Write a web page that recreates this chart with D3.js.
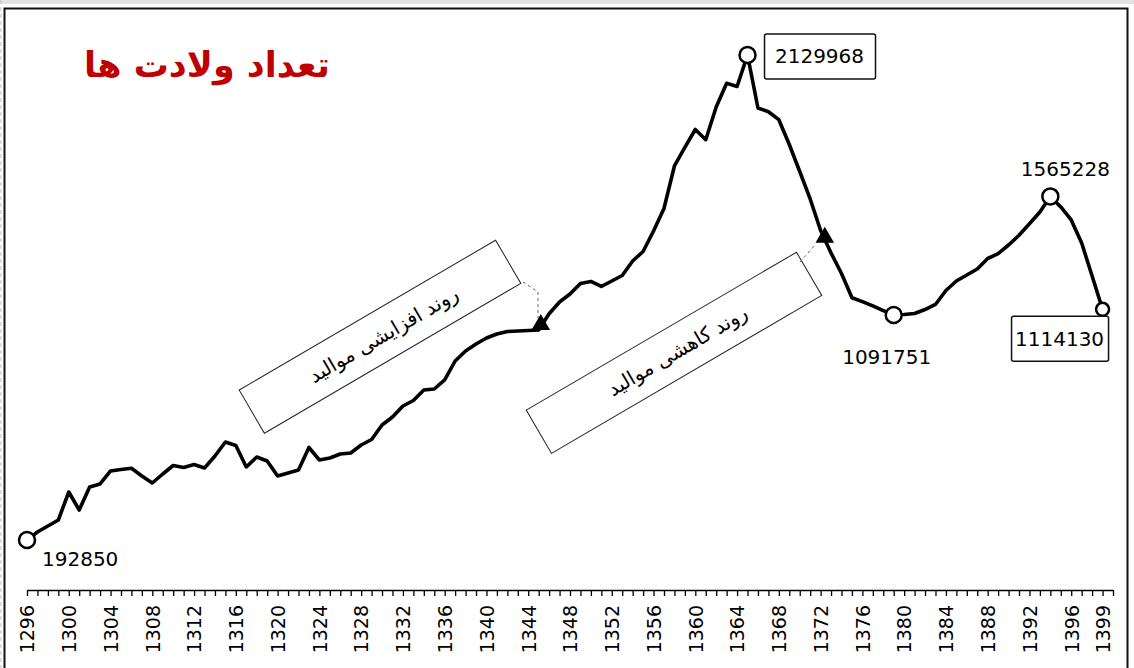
<html>
<head>
    <meta charset="utf-8">
    <title>تعداد ولادت ها</title>
    <style>
        body { margin: 0; background: #fff; }
        svg { display: block; }
    </style>
</head>
<body>
    <div id="grafico"></div>
    <script src="https://d3js.org/d3.v7.min.js"></script>
    <script>
        // Dados: ولادت ها در هر سال
        const years = [
            1296, 1297, 1298, 1299, 1300, 1301, 1302, 1303, 1304, 1305,
            1306, 1307, 1308, 1309, 1310, 1311, 1312, 1313, 1314, 1315,
            1316, 1317, 1318, 1319, 1320, 1321, 1322, 1323, 1324, 1325,
            1326, 1327, 1328, 1329, 1330, 1331, 1332, 1333, 1334, 1335,
            1336, 1337, 1338, 1339, 1340, 1341, 1342, 1343, 1344, 1345,
            1346, 1347, 1348, 1349, 1350, 1351, 1352, 1353, 1354, 1355,
            1356, 1357, 1358, 1359, 1360, 1361, 1362, 1363, 1364, 1365,
            1366, 1367, 1368, 1369, 1370, 1371, 1372, 1373, 1374, 1375,
            1376, 1377, 1378, 1379, 1380, 1381, 1382, 1383, 1384, 1385,
            1386, 1387, 1388, 1389, 1390, 1391, 1392, 1393, 1394, 1395,
            1396, 1397, 1398, 1399
        ];
        const births = [
            192850, 224900, 248800, 272800, 384600, 312700, 404600, 416600, 468500, 474500,
            479300, 448500, 420600, 456500, 490500, 482500, 494500, 480500, 528400, 584300,
            570300, 484500, 524400, 508400, 448500, 460500, 472500, 562400, 512400, 520400,
            536400, 540400, 572300, 594300, 652200, 684200, 728100, 750100, 792000, 796000,
            832000, 907800, 947800, 975700, 999700, 1015700, 1025700, 1027700, 1029700, 1031700,
            1096300, 1143500, 1175400, 1217400, 1225400, 1205400, 1227400, 1249300, 1307200, 1345200,
            1427100, 1516900, 1686700, 1760600, 1832400, 1791700, 1922300, 2017000, 2004200, 2129968,
            1918300, 1903500, 1871600, 1772500, 1664700, 1554900, 1429100, 1339200, 1257300, 1160300,
            1145100, 1128300, 1109100, 1091751, 1093600, 1097600, 1113500, 1133500, 1189400, 1227400,
            1251300, 1275300, 1317200, 1336800, 1371100, 1409900, 1456200, 1503000, 1565228, 1522900,
            1471000, 1379100, 1247300, 1114130
        ];
        const tickLabels = [1296, 1300, 1304, 1308, 1312, 1316, 1320, 1324, 1328, 1332, 1336, 1340,
            1344, 1348, 1352, 1356, 1360, 1364, 1368, 1372, 1376, 1380, 1384, 1388, 1392, 1396, 1399];
        const highlightYears = [1296, 1365, 1379, 1394, 1399];
        const trendYears = [1345.2, 1372.4];
        const trendLabels = ["روند افزایشی موالید", "روند کاهشی موالید"];
        const title = "تعداد ولادت ها";

        const data = years.map((yr, i) => ({ year: yr, value: births[i] }));
        const valueOf = yr => births[years.indexOf(yr)];
        // valor entre dois anos (para os triângulos)
        const valueAt = t => {
            const i = Math.floor(t) - years[0];
            return d3.interpolateNumber(births[i], births[i + 1])(t - Math.floor(t));
        };

        const W = 1134, H = 668;
        const svg = d3.select("#grafico").append("svg")
            .attr("width", W)
            .attr("height", H);

        // moldura
        svg.append("rect").attr("x", 0).attr("y", 0).attr("width", W).attr("height", 4).attr("fill", "#e2e2e2");
        svg.append("line").attr("x1", 1).attr("x2", 1).attr("y1", 0).attr("y2", H)
            .attr("stroke", "#bbb").attr("stroke-dasharray", "4,3");
        svg.append("rect")
            .attr("x", 4.5).attr("y", 8.5).attr("width", 1123).attr("height", 700)
            .attr("fill", "none").attr("stroke", "#111").attr("stroke-width", 2);

        // escalas
        const x = d3.scaleLinear().domain([1296, 1400]).range([27, 1113]);
        const y = d3.scaleLinear().domain([0, 2129968]).range([588.3, 55]);

        // eixo X: um tick por ano
        const axisY = 590;
        svg.append("g")
            .attr("transform", `translate(0,${axisY})`)
            .call(d3.axisBottom(x).tickValues(years.concat([1400])).tickSize(6).tickSizeOuter(0).tickFormat(""))
            .call(g => g.select(".domain").attr("stroke-width", 1.6))
            .call(g => g.selectAll(".tick line").attr("stroke-width", 1.3));

        svg.append("g")
            .attr("transform", `translate(0,${axisY})`)
            .call(d3.axisBottom(x).tickValues(tickLabels).tickSize(0).tickFormat(d => d))
            .call(g => g.select(".domain").remove())
            .selectAll("text")
            .attr("transform", "rotate(-90)")
            .attr("x", -15)
            .attr("y", 0)
            .attr("dy", "0.36em")
            .style("text-anchor", "end")
            .style("font-family", "'DejaVu Sans', sans-serif")
            .style("font-size", "19px")
            .style("fill", "#000");

        // linha
        const line = d3.line()
            .x(d => x(d.year))
            .y(d => y(d.value));

        svg.append("path")
            .datum(data)
            .attr("d", line)
            .attr("fill", "none")
            .attr("stroke", "#000")
            .attr("stroke-width", 3.6)
            .attr("stroke-linejoin", "round")
            .attr("stroke-linecap", "round");

        // caixas inclinadas com texto
        const boxes = [
            { cx: 380, cy: 336.7, w: 297, h: 50 },
            { cx: 674, cy: 352.8, w: 313, h: 50 }
        ];
        boxes.forEach((b, i) => {
            const g = svg.append("g").attr("transform", `translate(${b.cx},${b.cy}) rotate(-30.3)`);
            g.append("rect")
                .attr("x", -b.w / 2).attr("y", -b.h / 2)
                .attr("width", b.w).attr("height", b.h)
                .attr("fill", "#fff").attr("stroke", "#222").attr("stroke-width", 1);
            g.append("text")
                .attr("x", 4).attr("y", 0).attr("dy", "0.35em")
                .attr("text-anchor", "middle")
                .style("font-family", "'DejaVu Sans', sans-serif")
                .style("font-size", "20px")
                .text(trendLabels[i]);
        });

        // linhas de ligação (tracejadas)
        svg.append("path")
            .attr("d", "M523,282 L538,292 L538,318")
            .attr("fill", "none").attr("stroke", "#666").attr("stroke-width", 1).attr("stroke-dasharray", "3,3");
        svg.append("path")
            .attr("d", "M800,262 L815,245")
            .attr("fill", "none").attr("stroke", "#666").attr("stroke-width", 1).attr("stroke-dasharray", "3,3");

        // triângulos
        svg.selectAll("path.tri")
            .data(trendYears)
            .join("path")
            .attr("class", "tri")
            .attr("d", d3.symbol(d3.symbolTriangle, 150))
            .attr("transform", d => `translate(${x(d)},${y(valueAt(d)) - 2})`)
            .attr("fill", "#000");

        // círculos
        svg.selectAll("circle.hl")
            .data(highlightYears)
            .join("circle")
            .attr("class", "hl")
            .attr("cx", d => x(d))
            .attr("cy", d => y(valueOf(d)))
            .attr("r", d => d === 1399 ? 6.5 : 8)
            .attr("fill", "#fff")
            .attr("stroke", "#000")
            .attr("stroke-width", 2.5);

        // rótulos dos valores
        const numFont = g => g.style("font-family", "'DejaVu Sans', sans-serif").style("font-size", "20px").style("fill", "#000");

        const px = yr => x(yr), py = yr => y(valueOf(yr));

        svg.append("text").call(numFont)
            .attr("x", px(1296) + 15).attr("y", py(1296) + 26)
            .attr("text-anchor", "start")
            .text(String(valueOf(1296)));

        svg.append("rect")
            .attr("x", px(1365) + 17).attr("y", py(1365) - 21)
            .attr("width", 111).attr("height", 45).attr("rx", 2)
            .attr("fill", "#fff").attr("stroke", "#111").attr("stroke-width", 1.5);
        svg.append("text").call(numFont)
            .attr("x", px(1365) + 72).attr("y", py(1365) + 8)
            .attr("text-anchor", "middle")
            .text(String(valueOf(1365)));

        svg.append("text").call(numFont)
            .attr("x", px(1379) - 7).attr("y", py(1379) + 49)
            .attr("text-anchor", "middle")
            .text(String(valueOf(1379)));

        svg.append("text").call(numFont)
            .attr("x", px(1394) + 15).attr("y", py(1394) - 20)
            .attr("text-anchor", "middle")
            .text(String(valueOf(1394)));

        svg.append("rect")
            .attr("x", px(1399) - 91).attr("y", py(1399) + 7)
            .attr("width", 97).attr("height", 45).attr("rx", 2)
            .attr("fill", "#fff").attr("stroke", "#111").attr("stroke-width", 1.5);
        svg.append("text").call(numFont)
            .attr("x", px(1399) - 43).attr("y", py(1399) + 37)
            .attr("text-anchor", "middle")
            .text(String(valueOf(1399)));

        // título
        svg.append("text")
            .attr("x", 207)
            .attr("y", 77)
            .attr("text-anchor", "middle")
            .style("font-family", "'DejaVu Sans', sans-serif")
            .style("font-weight", "bold")
            .style("font-size", "35px")
            .style("fill", "#c00000")
            .text(title);
    </script>
</body>
</html>
